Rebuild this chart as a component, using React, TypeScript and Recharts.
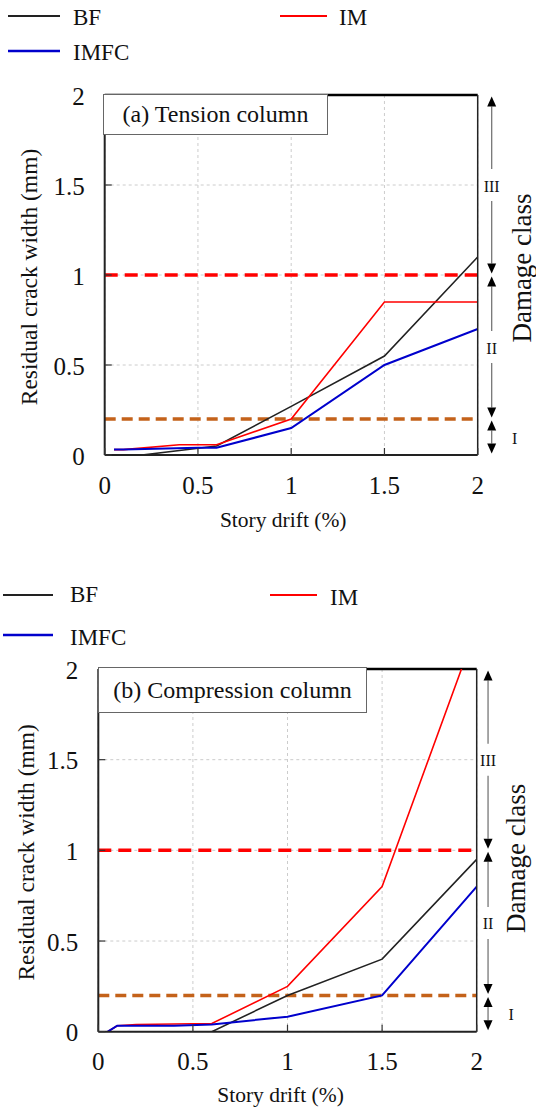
import React from 'react';
import {
  LineChart,
  Line,
  XAxis,
  YAxis,
  CartesianGrid,
  ReferenceLine,
  Label,
} from 'recharts';

// ---------- Data ----------
const driftTicks = [0, 0.5, 1, 1.5, 2];
const crackTicks = [0, 0.5, 1, 1.5, 2];

const seriesNames = ['BF', 'IM', 'IMFC'];
const seriesColors = ['#222222', '#ff0000', '#0000cc'];

// (a) Tension column
const bfTensionX = [0.05, 0.2, 0.6, 1, 1.5, 2];
const bfTensionY = [0, 0, 0.05, 0.27, 0.55, 1.1];
const imTensionX = [0.05, 0.1, 0.4, 0.6, 1, 1.5, 2];
const imTensionY = [0.03, 0.03, 0.057, 0.057, 0.2, 0.85, 0.85];
const imfcTensionX = [0.05, 0.1, 0.5, 0.6, 1, 1.5, 2];
const imfcTensionY = [0.03, 0.03, 0.04, 0.04, 0.15, 0.5, 0.7];

// (b) Compression column
const bfCompX = [0.05, 0.6, 1, 1.5, 2];
const bfCompY = [0, 0, 0.2, 0.4, 0.95];
const imCompX = [0.05, 0.1, 0.2, 0.6, 1, 1.5, 2];
const imCompY = [0, 0.033, 0.04, 0.045, 0.25, 0.8, 2.23];
const imfcCompX = [0.05, 0.1, 0.4, 0.6, 1, 1.5, 2];
const imfcCompY = [0, 0.033, 0.033, 0.04, 0.083, 0.2, 0.8];

// Damage class limits
const damageLimits = [2, 1, 0.2, 0];
const damageLabels = ['III', 'II', 'I'];
const limitLineValues = [1, 0.2];
const limitLineColors = ['#ff0000', '#c4621a'];

const panelTitles = ['(a) Tension column', '(b) Compression column'];

const zip = (xs: number[], ys: number[]) => xs.map((x, i) => ({ x, y: ys[i] }));

const FONT = "'Liberation Serif', 'Times New Roman', Times, serif";
const fs = (size: number): React.CSSProperties => ({ fontFamily: FONT, fontSize: size });

// ---------- Custom pieces ----------
const XTick = (props: any) => {
  const { x, y, payload } = props;
  return (
    <g>
      <line x1={x} x2={x} y1={y} y2={y - 7} stroke="#333" strokeWidth={1.2} />
      <text x={x} y={y + 30} textAnchor="middle" dominantBaseline="central" style={fs(25)} fill="#111">
        {payload.value}
      </text>
    </g>
  );
};

const YTick = (props: any) => {
  const { x, y, payload } = props;
  return (
    <g>
      <line x1={x} x2={x + 7} y1={y} y2={y} stroke="#333" strokeWidth={1.2} />
      <text x={x - 20} y={y + 1} textAnchor="end" dominantBaseline="central" style={fs(25)} fill="#111">
        {payload.value}
      </text>
    </g>
  );
};

const vLabel = (text: string, dx: number, dy: number, size: number) => (props: any) => {
  const vb = props.viewBox || {};
  const cx = (vb.x || 0) + (vb.width || 0) / 2 + dx;
  const cy = (vb.y || 0) + (vb.height || 0) / 2 + dy;
  return (
    <text
      x={cx}
      y={cy}
      transform={`rotate(-90 ${cx} ${cy})`}
      textAnchor="middle"
      dominantBaseline="central"
      style={fs(size)}
      fill="#111"
    >
      {text}
    </text>
  );
};

const hLabel = (text: string, dx: number, dy: number, size: number) => (props: any) => {
  const vb = props.viewBox || {};
  const cx = (vb.x || 0) + (vb.width || 0) / 2 + dx;
  const cy = (vb.y || 0) + (vb.height || 0) / 2 + dy;
  return (
    <text x={cx} y={cy} textAnchor="middle" dominantBaseline="central" style={fs(size)} fill="#111">
      {text}
    </text>
  );
};

const arrowShape = (label: string, side: boolean) => (p: any) => {
  const { x1, y1, x2, y2 } = p;
  if ([x1, y1, x2, y2].some((v) => typeof v !== 'number' || isNaN(v))) return <g />;
  const x = x1;
  const top = Math.min(y1, y2) + 1.5;
  const bot = Math.max(y1, y2) - 1.5;
  const h = 10;
  const w = 4.5;
  const mid = (top + bot) / 2;
  const gap = side ? 0 : 16;
  return (
    <g>
      {side ? (
        <line x1={x} x2={x} y1={top + h} y2={bot - h} stroke="#777" strokeWidth={1.3} />
      ) : (
        <>
          <line x1={x} x2={x} y1={top + h} y2={mid - gap} stroke="#777" strokeWidth={1.3} />
          <line x1={x} x2={x} y1={mid + gap} y2={bot - h} stroke="#777" strokeWidth={1.3} />
        </>
      )}
      <polygon points={`${x},${top} ${x - w},${top + h} ${x + w},${top + h}`} fill="#000" />
      <polygon points={`${x},${bot} ${x - w},${bot - h} ${x + w},${bot - h}`} fill="#000" />
      <text
        x={side ? x + 23 : x}
        y={mid + 1}
        textAnchor="middle"
        dominantBaseline="central"
        style={fs(16)}
        fill="#111"
      >
        {label}
      </text>
    </g>
  );
};

type PanelProps = {
  top: number;
  height: number;
  margin: { top: number; right: number; bottom: number; left: number };
  rightWidth: number;
  series: { x: number; y: number }[][];
  arrowX: number;
  yLabelDx: number;
  yLabelDy: number;
  xLabelDx: number;
  xLabelDy: number;
  dcDx: number;
  dcDy: number;
};

const Panel = (p: PanelProps) => (
  <div style={{ position: 'absolute', left: 0, top: p.top, width: 536, height: p.height }}>
    <LineChart width={536} height={p.height} margin={p.margin}>
      <CartesianGrid yAxisId="left" stroke="#cccccc" strokeDasharray="3 3" strokeWidth={1} />
      <XAxis
        type="number"
        dataKey="x"
        domain={[0, 2]}
        ticks={driftTicks}
        interval={0}
        allowDataOverflow
        height={40}
        tickSize={0}
        tickMargin={0}
        tickLine={false}
        tick={<XTick />}
        axisLine={{ stroke: '#222', strokeWidth: 2 }}
      >
        <Label content={hLabel('Story drift (%)', p.xLabelDx, p.xLabelDy, 21.5)} />
      </XAxis>
      <YAxis
        yAxisId="left"
        type="number"
        domain={[0, 2]}
        ticks={crackTicks}
        interval={0}
        allowDataOverflow
        width={60}
        tickSize={0}
        tickMargin={0}
        tickLine={false}
        tick={<YTick />}
        axisLine={{ stroke: '#222', strokeWidth: 2 }}
      >
        <Label content={vLabel('Residual crack width (mm)', p.yLabelDx, p.yLabelDy, 23.5)} />
      </YAxis>
      <YAxis
        yAxisId="right"
        orientation="right"
        type="number"
        domain={[0, 2]}
        width={p.rightWidth}
        tick={false}
        tickLine={false}
        axisLine={{ stroke: '#222', strokeWidth: 1.5 }}
      >
        <Label content={vLabel('Damage class', p.dcDx, p.dcDy, 27)} />
      </YAxis>
      <ReferenceLine yAxisId="left" y={2} stroke="#000" strokeWidth={2.5} />
      {limitLineValues.map((v, i) => (
        <ReferenceLine
          key={'lim' + i}
          yAxisId="left"
          y={v}
          stroke={limitLineColors[i]}
          strokeWidth={3.5}
          strokeDasharray={i === 0 ? '13 7' : '11 6'}
        />
      ))}
      {damageLabels.map((lab, i) => (
        <ReferenceLine
          key={'dc' + i}
          yAxisId="left"
          ifOverflow="visible"
          segment={[
            { x: p.arrowX, y: damageLimits[i] },
            { x: p.arrowX, y: damageLimits[i + 1] },
          ]}
          stroke="#777"
          shape={arrowShape(lab, i === 2)}
        />
      ))}
      {p.series.map((d, i) => (
        <Line
          key={seriesNames[i]}
          yAxisId="left"
          data={d}
          dataKey="y"
          type="linear"
          stroke={seriesColors[i]}
          strokeWidth={i === 2 ? 2 : 1.6}
          dot={false}
          activeDot={false}
          isAnimationActive={false}
        />
      ))}
    </LineChart>
  </div>
);

const legendLayouts = [
  [
    { lx: 8, lw: 52, ly: 16, tx: 73, ty: 17 },
    { lx: 280, lw: 47, ly: 16, tx: 339, ty: 17 },
    { lx: 8, lw: 52, ly: 51, tx: 73, ty: 52 },
  ],
  [
    { lx: 3, lw: 50, ly: 595, tx: 70, ty: 594 },
    { lx: 270, lw: 47, ly: 595, tx: 330, ty: 597 },
    { lx: 3, lw: 50, ly: 635, tx: 70, ty: 637 },
  ],
];

const titleBoxes = [
  { left: 103, top: 94, width: 225, height: 41 },
  { left: 98, top: 667, width: 269, height: 46 },
];

export default function App() {
  return (
    <div
      style={{
        position: 'absolute',
        left: 0,
        top: 0,
        width: 536,
        height: 1108,
        background: '#fff',
        overflow: 'hidden',
        fontFamily: FONT,
      }}
    >
      <Panel
        top={0}
        height={548}
        margin={{ top: 95, right: 0, bottom: 53, left: 44.7 }}
        rightWidth={58.3}
        series={[
          zip(bfTensionX, bfTensionY),
          zip(imTensionX, imTensionY),
          zip(imfcTensionX, imfcTensionY),
        ]}
        arrowX={2.075}
        yLabelDx={-45.7}
        yLabelDy={2}
        xLabelDx={-8}
        xLabelDy={45}
        dcDx={15}
        dcDy={-7}
      />
      <Panel
        top={560}
        height={548}
        margin={{ top: 109, right: 0, bottom: 36.3, left: 38.3 }}
        rightWidth={59.3}
        series={[
          zip(bfCompX, bfCompY),
          zip(imCompX, imCompY),
          zip(imfcCompX, imfcCompY),
        ]}
        arrowX={2.06}
        yLabelDx={-42}
        yLabelDy={2}
        xLabelDx={-7}
        xLabelDy={43}
        dcDx={10}
        dcDy={8}
      />
      <svg
        width={536}
        height={1108}
        style={{ position: 'absolute', left: 0, top: 0, pointerEvents: 'none' }}
      >
        {legendLayouts.map((lay, k) =>
          lay.map((it, i) => (
            <g key={k + '-' + i}>
              <line
                x1={it.lx}
                x2={it.lx + it.lw}
                y1={it.ly}
                y2={it.ly}
                stroke={seriesColors[i]}
                strokeWidth={i === 2 ? 2.5 : 2}
              />
              <text x={it.tx} y={it.ty} dominantBaseline="central" style={fs(23)} fill="#111">
                {seriesNames[i]}
              </text>
            </g>
          ))
        )}
      </svg>
      {titleBoxes.map((b, i) => (
        <div
          key={'tb' + i}
          style={{
            position: 'absolute',
            left: b.left,
            top: b.top,
            width: b.width,
            height: b.height,
            boxSizing: 'border-box',
            border: '1.5px solid #666',
            background: '#fff',
            display: 'flex',
            alignItems: 'center',
            justifyContent: 'center',
            fontSize: 24,
            fontFamily: FONT,
            color: '#111',
            whiteSpace: 'nowrap',
          }}
        >
          {panelTitles[i]}
        </div>
      ))}
    </div>
  );
}
